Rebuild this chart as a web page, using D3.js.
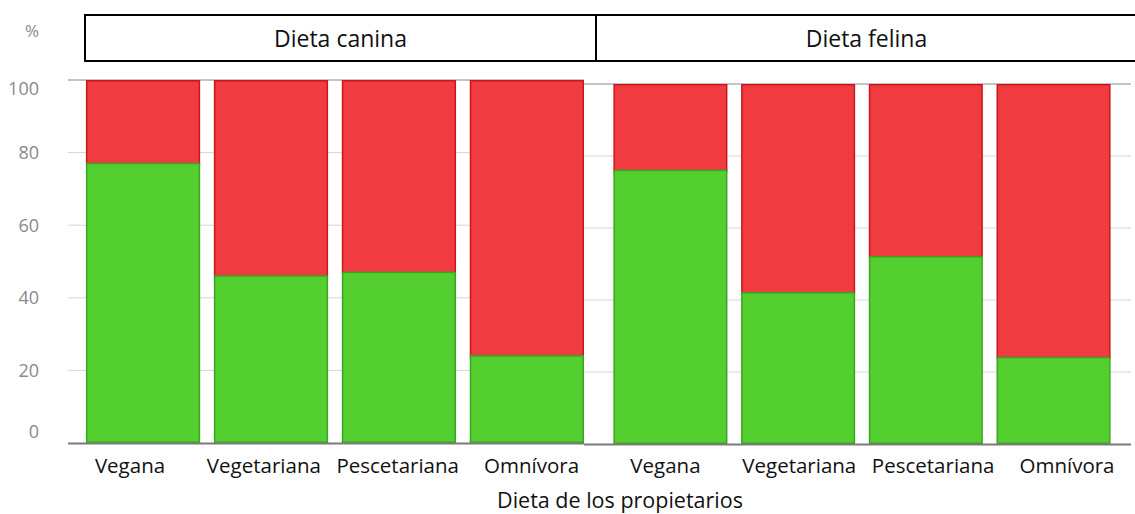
<!DOCTYPE html>
<html>
<head>
<meta charset="utf-8">
<script src="https://cdn.jsdelivr.net/npm/d3@7"></script>
<style>
  body { margin: 0; background: #fff; }
  svg { display: block; font-family: "Open Sans", "Noto Sans", sans-serif; }
</style>
</head>
<body>
<div id="chart"></div>
<script>
/* data */
var categories = ["Vegana", "Vegetariana", "Pescetariana", "Omnívora"];
var panelTitles = ["Dieta canina", "Dieta felina"];
var caninaGreen = [77, 46, 47, 24];
var felinaGreen = [76, 42, 52, 24];
var yTicks = [0, 20, 40, 60, 80, 100];
var xTitle = "Dieta de los propietarios";

/* setup */
var iWidth = 1135, iHeight = 514;
var red = "#f03c40", redEdge = "#c9171c",
    green = "#53cf2f", greenEdge = "#3ba520";

var svg = d3.select('#chart').append('svg')
    .attr('width', iWidth)
    .attr('height', iHeight);

// each panel has its own band + linear scale (the two halves were pasted together)
var panels = [
    { title: panelTitles[0], values: caninaGreen,
      x: d3.scaleBand().domain(categories).range([68, 584]).paddingInner(0.107).paddingOuter(0.07).align(1),
      y: d3.scaleLinear().domain([0, 100]).range([443, 80]),
      box: [85, 596] },
    { title: panelTitles[1], values: felinaGreen,
      x: d3.scaleBand().domain(categories).range([584, 1131]).paddingInner(0.107).paddingOuter(0.195).align(0.59),
      y: d3.scaleLinear().domain([0, 100]).range([444, 84]),
      box: [596, 1137] }
];

panels.forEach(function (p) {
    var g = svg.append('g');
    var x0 = p.x.range()[0], x1 = p.x.range()[1];

    // gridlines
    g.selectAll('.grid')
        .data(yTicks.filter(function (t) { return t > 0; }))
      .enter().append('line')
        .attr('x1', x0).attr('x2', x1)
        .attr('y1', function (t) { return p.y(t); })
        .attr('y2', function (t) { return p.y(t); })
        .attr('stroke', function (t) { return t === 100 ? '#c4c4c4' : '#d6d6d6'; })
        .attr('stroke-width', function (t) { return t === 100 ? 2 : 1; });

    var rows = categories.map(function (c, i) { return { cat: c, v: p.values[i] }; });

    // red part (rest up to 100)
    g.selectAll('.red')
        .data(rows)
      .enter().append('rect')
        .attr('x', function (d) { return p.x(d.cat) + 0.75; })
        .attr('width', p.x.bandwidth() - 1.5)
        .attr('y', p.y(100) + 0.75)
        .attr('height', function (d) { return p.y(d.v) - p.y(100); })
        .attr('fill', red)
        .attr('stroke', redEdge)
        .attr('stroke-width', 1.5);

    // green part
    g.selectAll('.green')
        .data(rows)
      .enter().append('rect')
        .attr('x', function (d) { return p.x(d.cat) + 0.75; })
        .attr('width', p.x.bandwidth() - 1.5)
        .attr('y', function (d) { return p.y(d.v); })
        .attr('height', function (d) { return p.y(0) - p.y(d.v) - 0.75; })
        .attr('fill', green)
        .attr('stroke', greenEdge)
        .attr('stroke-width', 1.5);

    // baseline
    g.append('line')
        .attr('x1', x0).attr('x2', x1)
        .attr('y1', p.y(0) + 0.5).attr('y2', p.y(0) + 0.5)
        .attr('stroke', '#7a7a7a')
        .attr('stroke-width', 2);

    // header box
    g.append('rect')
        .attr('x', p.box[0]).attr('y', 15)
        .attr('width', p.box[1] - p.box[0]).attr('height', 46)
        .attr('fill', 'none')
        .attr('stroke', '#000')
        .attr('stroke-width', 2);
    g.append('text')
        .attr('x', (p.box[0] + p.box[1]) / 2)
        .attr('y', 39)
        .attr('dy', '0.35em')
        .attr('text-anchor', 'middle')
        .attr('font-size', 23)
        .attr('fill', '#111')
        .text(p.title);
});

// y tick labels (left panel scale); the 100 and 0 labels sit a bit inward in the original
var yL = panels[0].y;
svg.selectAll('.ytick')
    .data(yTicks)
  .enter().append('text')
    .attr('x', 39)
    .attr('y', function (t) { return yL(t) + (t === 100 ? 9 : t === 0 ? -11 : 0); })
    .attr('dy', '0.35em')
    .attr('text-anchor', 'end')
    .attr('font-size', 18)
    .attr('fill', '#8a8a8a')
    .text(function (t) { return t; });

svg.append('text')
    .attr('x', 32).attr('y', 31)
    .attr('dy', '0.35em')
    .attr('text-anchor', 'middle')
    .attr('font-size', 17)
    .attr('fill', '#8a8a8a')
    .text('%');

// x labels row (typed as one evenly spaced line under both panels)
var labels = categories.concat(categories);
var xLab = d3.scalePoint().domain(d3.range(labels.length)).range([130, 1067]);
svg.selectAll('.xlab')
    .data(labels)
  .enter().append('text')
    .attr('x', function (d, i) { return xLab(i); })
    .attr('y', 466)
    .attr('dy', '0.35em')
    .attr('text-anchor', 'middle')
    .attr('font-size', 20.5)
    .attr('fill', '#111')
    .text(function (d) { return d; });

svg.append('text')
    .attr('x', 620).attr('y', 500)
    .attr('dy', '0.35em')
    .attr('text-anchor', 'middle')
    .attr('font-size', 21.5)
    .attr('fill', '#111')
    .text(xTitle);
</script>
</body>
</html>
